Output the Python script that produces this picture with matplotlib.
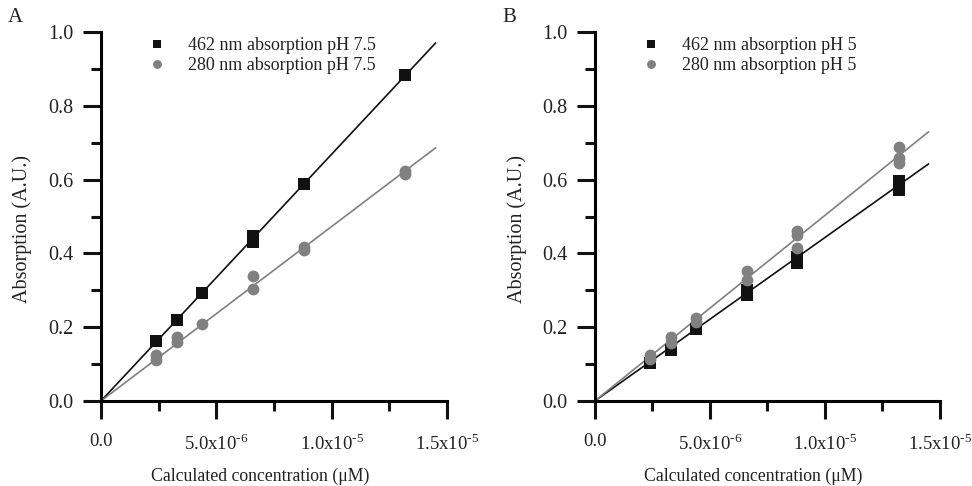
import numpy as np
import matplotlib
matplotlib.use("Agg")
import matplotlib.pyplot as plt
from matplotlib.ticker import MultipleLocator, FixedLocator

plt.rcParams['font.family'] = ['Liberation Serif', 'DejaVu Serif']
plt.rcParams['mathtext.fontset'] = 'custom'
plt.rcParams['mathtext.rm'] = 'Liberation Serif'

# ---- data ----
conc_A_sq = [2.4e-6, 3.3e-6, 4.4e-6, 6.6e-6, 6.6e-6, 8.8e-6, 13.2e-6]
abs_A_sq = [0.162, 0.220, 0.293, 0.432, 0.448, 0.588, 0.883]
conc_A_ci = [2.4e-6, 2.4e-6, 3.3e-6, 3.3e-6, 4.4e-6, 6.6e-6, 6.6e-6, 8.8e-6, 8.8e-6, 13.2e-6, 13.2e-6]
abs_A_ci = [0.112, 0.124, 0.160, 0.174, 0.209, 0.303, 0.340, 0.410, 0.418, 0.614, 0.624]
slope_A_sq = 66900.0
slope_A_ci = 47300.0

conc_B_sq = [2.4e-6, 3.3e-6, 4.4e-6, 6.6e-6, 6.6e-6, 8.8e-6, 8.8e-6, 13.2e-6, 13.2e-6]
abs_B_sq = [0.103, 0.138, 0.195, 0.288, 0.302, 0.373, 0.390, 0.573, 0.597]
conc_B_ci = [2.4e-6, 2.4e-6, 3.3e-6, 3.3e-6, 4.4e-6, 4.4e-6, 6.6e-6, 6.6e-6, 8.8e-6, 8.8e-6, 8.8e-6,
             13.2e-6, 13.2e-6, 13.2e-6]
abs_B_ci = [0.115, 0.125, 0.157, 0.173, 0.214, 0.226, 0.328, 0.352, 0.415, 0.450, 0.460,
            0.645, 0.658, 0.688]
slope_B_sq = 44300.0
slope_B_ci = 50300.0
fit_x = [0.0, 1.45e-5]

x_ticks = [0.0, 5e-6, 1e-5, 1.5e-5]
x_ticklabels = ['0.0', r'5.0x10$^{\text{-6}}$', r'1.0x10$^{\text{-5}}$',
                r'1.5x10$^{\text{-5}}$']
y_ticks = [0.0, 0.2, 0.4, 0.6, 0.8, 1.0]
y_ticklabels = ['0.0', '0.2', '0.4', '0.6', '0.8', '1.0']

labels_A = ['462 nm absorption pH 7.5', '280 nm absorption pH 7.5']
labels_B = ['462 nm absorption pH 5', '280 nm absorption pH 5']

black = '#111111'
gray = '#808080'
txt = '#222222'

fig = plt.figure(figsize=(9.72, 4.86), dpi=100)
axA = fig.add_axes([0.1039, 0.175, 0.356, 0.759])
axB = fig.add_axes([0.612, 0.175, 0.355, 0.759])

def setup(ax, sq_x, sq_y, ci_x, ci_y, s_sq, s_ci, labels, panel, px):
    fx = np.array(fit_x)
    ax.plot(fx, s_sq * fx, color=black, lw=1.2, zorder=2)
    ax.plot(fx, s_ci * fx, color=gray, lw=1.2, zorder=2)
    ax.plot(sq_x, sq_y, 's', color=black, ms=8.5, mew=0, zorder=3, label=labels[0])
    ax.plot(ci_x, ci_y, 'o', color=gray, ms=8.5, mew=0, zorder=3, label=labels[1])
    ax.set_xlim(0, 1.5e-5)
    ax.set_ylim(0, 1.0)
    for s in ['top', 'right']:
        ax.spines[s].set_visible(False)
    for s in ['left', 'bottom']:
        ax.spines[s].set_linewidth(2.2)
    ax.xaxis.set_major_locator(FixedLocator(x_ticks))
    ax.set_xticklabels(x_ticklabels)
    ax.xaxis.set_minor_locator(MultipleLocator(2.5e-6))
    ax.yaxis.set_major_locator(FixedLocator(y_ticks))
    ax.set_yticklabels(y_ticklabels)
    ax.yaxis.set_minor_locator(MultipleLocator(0.1))
    ax.tick_params(which='major', direction='out', length=13, width=2.2,
                   color=black, labelcolor=txt)
    ax.tick_params(which='minor', direction='out', length=7, width=2.2, color=black)
    ax.tick_params(axis='x', which='major', pad=10, labelsize=13.5)
    ax.tick_params(axis='y', which='major', pad=7, labelsize=14.5)
    ax.set_xlabel('Calculated concentration (\u03bcM)', fontsize=12.8, color=txt)
    ax.xaxis.set_label_coords(0.46, -0.18)
    ax.set_ylabel('Absorption (A.U.)', fontsize=14.5, color=txt)
    ax.yaxis.set_label_coords(-0.198, 0.465)
    leg = ax.legend(loc='upper left', bbox_to_anchor=(0.09, 1.03), frameon=False, fontsize=13,
                    handlelength=1.0, handletextpad=1.2, labelspacing=0.15, markerscale=0.75)
    for t in leg.get_texts():
        t.set_color(txt)
    fig.text(px, 0.945, panel, fontsize=15, color=txt, ha='left', va='bottom')

setup(axA, conc_A_sq, abs_A_sq, conc_A_ci, abs_A_ci, slope_A_sq, slope_A_ci, labels_A, 'A', 0.008)
setup(axB, conc_B_sq, abs_B_sq, conc_B_ci, abs_B_ci, slope_B_sq, slope_B_ci, labels_B, 'B', 0.517)

fig.savefig('out.png', dpi=100)
